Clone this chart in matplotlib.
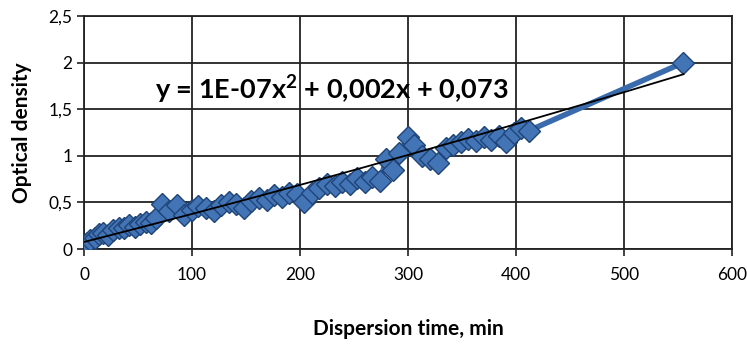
import numpy as np
import matplotlib.pyplot as plt

# dispersion time (min) and optical density
time_min = [0, 3, 6, 10, 14, 18, 22, 27, 32, 37, 42, 47, 52, 57, 62, 67,
            72, 79, 86, 93, 100, 106, 113, 120, 127, 134, 141, 148, 155,
            162, 169, 176, 183, 190, 197, 204, 211, 218, 225, 232, 239,
            246, 253, 260, 267, 274, 280, 286, 292, 300, 306, 313, 320,
            328, 335, 342, 349, 356, 363, 370, 377, 384, 391, 398, 405,
            412, 555]
density = [0.03, 0.06, 0.10, 0.12, 0.16, 0.17, 0.15, 0.20, 0.23, 0.22, 0.26,
           0.24, 0.27, 0.29, 0.28, 0.33, 0.48, 0.41, 0.47, 0.36, 0.42, 0.46,
           0.44, 0.41, 0.47, 0.50, 0.48, 0.44, 0.52, 0.55, 0.53, 0.58, 0.56,
           0.60, 0.59, 0.50, 0.60, 0.65, 0.70, 0.68, 0.72, 0.70, 0.76, 0.72,
           0.77, 0.73, 0.97, 0.85, 1.03, 1.20, 1.12, 1.00, 0.97, 0.92, 1.08,
           1.12, 1.15, 1.18, 1.16, 1.20, 1.17, 1.21, 1.15, 1.25, 1.30, 1.27,
           2.00]

# trend line as drawn in the picture (a*x^2 + b*x + c)
trend_coef = [5.1e-7, 0.00296, 0.075]
trend_label = r'y = 1E-07x$^{\mathbf{2}}$ + 0,002x + 0,073'

x_ticks = [0, 100, 200, 300, 400, 500, 600]
y_ticks = [0, 0.5, 1, 1.5, 2, 2.5]
y_labels = ['0', '0,5', '1', '1,5', '2', '2,5']

plt.rcParams['font.family'] = ['Lato', 'DejaVu Sans']
plt.rcParams['mathtext.fontset'] = 'custom'
plt.rcParams['mathtext.rm'] = 'Lato'
plt.rcParams['mathtext.bf'] = 'Lato:bold'

fig = plt.figure(figsize=(7.47, 3.51), dpi=100)
ax = fig.add_axes([84/747, 1-249/351, (732-84)/747, (249-16)/351])

ax.plot(time_min, density, color='#3a6cad', lw=4, marker='D', ms=11.5,
        mfc='#4274b6', mec='#1f4478', mew=1.0, zorder=3)

xt = np.linspace(0, max(time_min), 200)
ax.plot(xt, np.polyval(trend_coef, xt), color='black', lw=1.3, zorder=4)

ax.text(66, 1.71, trend_label, fontsize=19.5,
        fontweight='bold', va='center', ha='left', zorder=5)

ax.set_xlim(0, 600)
ax.set_ylim(0, 2.5)
ax.set_xticks(x_ticks)
ax.set_yticks(y_ticks)
ax.set_yticklabels(y_labels)
ax.tick_params(labelsize=12.5, length=5, width=1.3, color='#333333')
ax.tick_params(axis='x', pad=8)
ax.grid(True, color='#222222', lw=1.3)
ax.set_axisbelow(True)
for s in ax.spines.values():
    s.set_color('#222222')
    s.set_linewidth(1.3)

ax.set_xlabel('Dispersion time, min', fontsize=15, fontweight='bold', labelpad=26)
ax.set_ylabel('Optical density', fontsize=15, fontweight='bold', labelpad=12)

fig.savefig('out.png', dpi=100)
